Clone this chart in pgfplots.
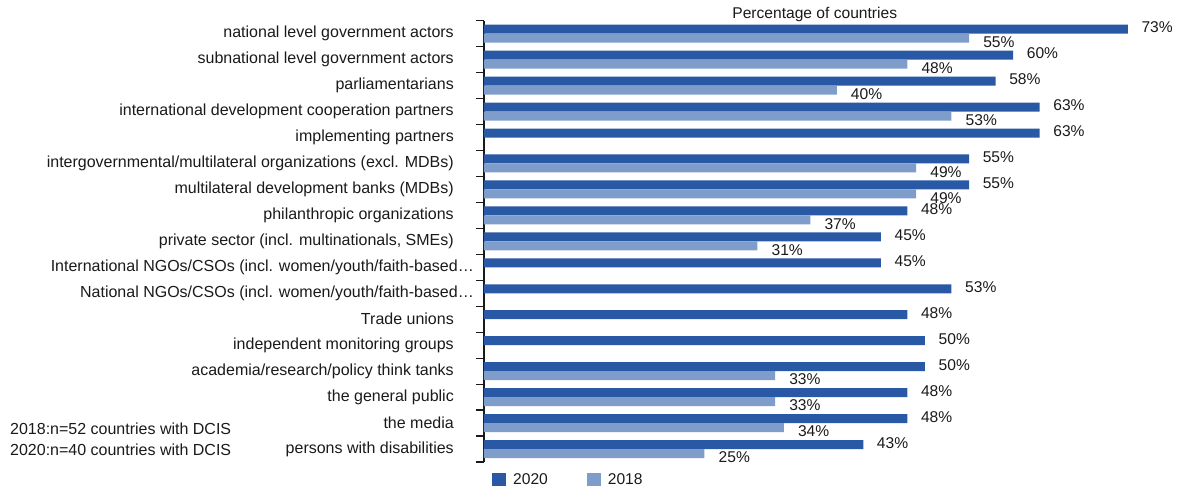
\documentclass[border=0pt]{standalone}
\usepackage{pgfplots}
\pgfplotsset{compat=1.18}
\usepackage{fontspec}
\setmainfont{Liberation Sans}
\definecolor{dblue}{HTML}{2958A5}
\definecolor{lblue}{HTML}{7F9DCB}
\definecolor{txt}{HTML}{1A1A1A}
\newcommand{\fs}{\fontsize{15.6}{18}\selectfont}
\newcommand{\fl}{\fontsize{16}{18}\selectfont}
\begin{document}
\begin{tikzpicture}
\begin{axis}[
  name=ax, at={(0,0)}, anchor=south west,
  scale only axis, width=661.5pt, height=441.3pt,
  xmin=0, xmax=75, ymin=-0.5, ymax=16.5, y dir=reverse,
  xbar, bar width=9pt,
  axis x line=none, axis y line*=left,
  y axis line style={line width=1.2pt, draw=txt},
  ytick={0,...,16},
  yticklabels={national level government actors,
    subnational level government actors,
    parliamentarians,
    international development cooperation partners,
    implementing partners,
    intergovernmental/multilateral organizations (excl. MDBs),
    multilateral development banks (MDBs),
    philanthropic organizations,
    {private sector (incl. multinationals, SMEs)},
    International NGOs/CSOs (incl. women/youth/faith-based…\hspace*{-20pt},
    National NGOs/CSOs (incl. women/youth/faith-based…\hspace*{-20pt},
    Trade unions,
    independent monitoring groups,
    academia/research/policy think tanks,
    the general public,
    the media,
    persons with disabilities},
  major tick length=0pt,
  extra y ticks={-0.5,0.5,...,16.5},
  extra y tick labels={},
  extra y tick style={major tick length=8pt, tick align=outside,
    major tick style={line width=1.2pt, draw=txt}},
  yticklabel style={font=\fl, text=txt, inner sep=0pt, anchor=east, xshift=-30pt},
  title={Percentage of countries},
  title style={at={(axis description cs:0.5,1)}, anchor=base, yshift=-4pt,
    inner sep=0pt, font=\fs, text=txt},
  legend columns=2,
  legend image code/.code={\fill[#1,draw=none] (0pt,-6.5pt) rectangle (14pt,6.5pt);},
  legend style={at={(axis description cs:0,0)}, anchor=north west,
    xshift=8pt, yshift=-11pt, draw=none, fill=none, inner sep=0pt,
    font=\fs, text=txt, nodes={inner sep=0pt},
    /tikz/every odd column/.append style={column sep=7pt},
    /tikz/every even column/.append style={column sep=39pt}},
]
\addplot[fill=dblue, draw=none, bar shift=4.5pt, point meta=x,
  nodes near coords={\pgfmathprintnumber[assume math mode=true]{\pgfplotspointmeta}\%},
  nodes near coords style={anchor=west, inner sep=0pt, xshift=13.5pt,
    yshift=1.7pt, font=\fs, text=txt}]
  coordinates {(73,0) (60,1) (58,2) (63,3) (63,4) (55,5) (55,6) (48,7)
    (45,8) (45,9) (53,10) (48,11) (50,12) (50,13) (48,14) (48,15) (43,16)};
\addlegendentry{2020}
\addplot[fill=lblue, draw=none, bar shift=-4.5pt, point meta=x,
  nodes near coords={\pgfmathprintnumber[assume math mode=true]{\pgfplotspointmeta}\%},
  nodes near coords style={anchor=west, inner sep=0pt, xshift=14pt,
    yshift=-3.8pt, font=\fs, text=txt}]
  coordinates {(55,0) (48,1) (40,2) (53,3) (49,5) (49,6) (37,7)
    (31,8) (33,13) (33,14) (34,15) (25,16)};
\addlegendentry{2018}
\end{axis}
\node[anchor=base west, inner sep=0pt, font=\fl, text=txt]
  at ([xshift=-474pt,yshift=28pt]ax.south west) {2018:n=52 countries with DCIS};
\node[anchor=base west, inner sep=0pt, font=\fl, text=txt]
  at ([xshift=-474pt,yshift=7pt]ax.south west) {2020:n=40 countries with DCIS};
\path ([xshift=-484pt,yshift=-28pt]ax.south west) rectangle ++(1183pt,490pt);
\end{tikzpicture}
\end{document}
